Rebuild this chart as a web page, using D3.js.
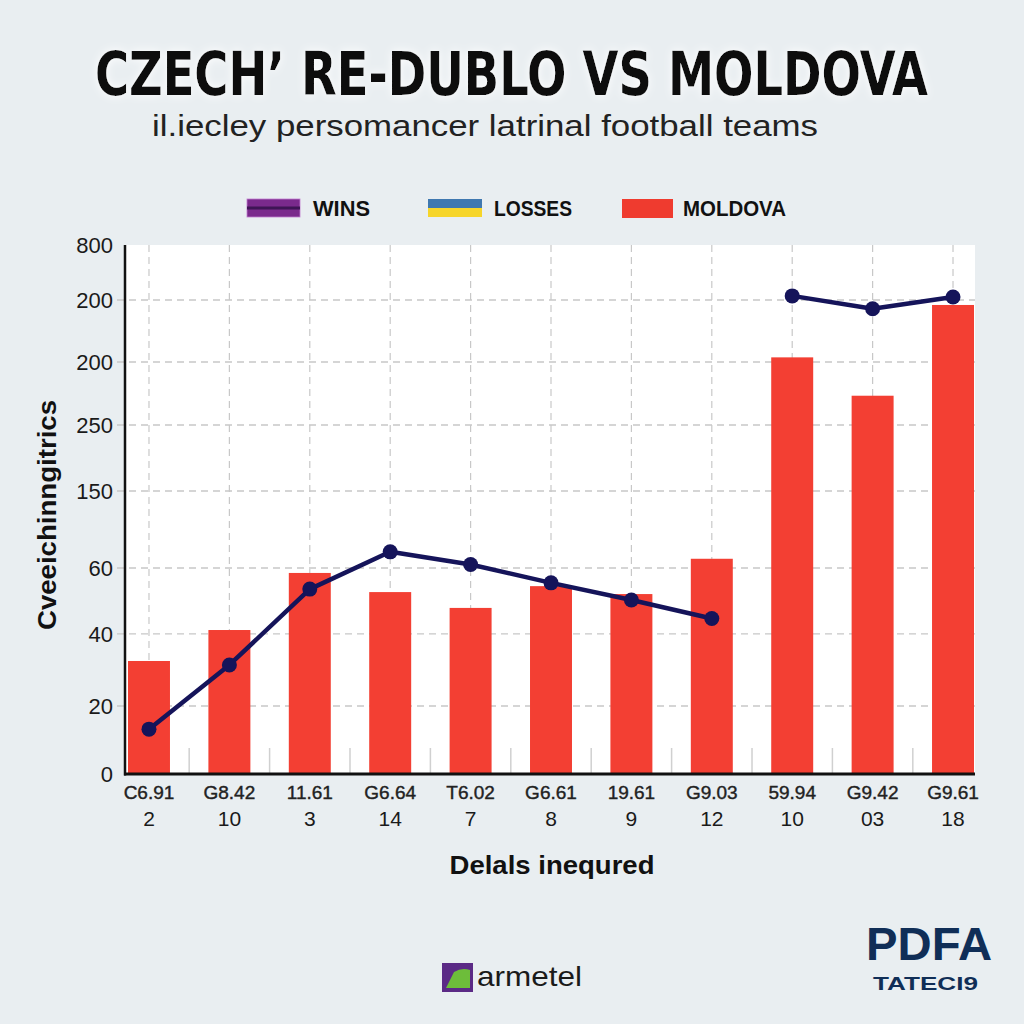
<!DOCTYPE html>
<html>
<head>
<meta charset="utf-8">
<script src="https://cdn.jsdelivr.net/npm/d3@7"></script>
<style>
  html, body { margin: 0; padding: 0; background: #e9eef1; }
  svg { display: block; }
</style>
</head>
<body>
<svg id="chart" width="1024" height="1024"></svg>
<script>
// ---------------- data ----------------
const categoriesTop = ["C6.91", "G8.42", "11.61", "G6.64", "T6.02", "G6.61", "19.61", "G9.03", "59.94", "G9.42", "G9.61"];
const categoriesBottom = ["2", "10", "3", "14", "7", "8", "9", "12", "10", "03", "18"];
// Moldova bars (in y-grid units, 20 per gridline step)
const moldovaValues = [32.5, 41.2, 58.5, 52.7, 47.9, 54.5, 52.1, 62.4, 121.5, 109.3, 138.4];
// Wins line (null = gap)
const winsValues = [13.2, 31.4, 53.6, 64.2, 60.9, 55.5, 50.3, 44.7, null, null, null];
const winsValues2 = [null, null, null, null, null, null, null, null, 141.5, 137.2, 141.1];
// y ticks: underlying grid values and the printed labels
const yTickValues = [0, 20, 40, 60, 80, 100, 120, 140, 160];
const yTickLabels = ["0", "20", "40", "60", "150", "250", "200", "200", "800"];
const legendLabels = ["WINS", "LOSSES", "MOLDOVA"];

// ---------------- layout ----------------
const svg = d3.select("#chart");
const W = 1024, H = 1024;
const plot = { left: 125, right: 975, top: 245, bottom: 774 };
// gridline spacing in the reference is uneven; fractions of plot height from bottom
const gridFrac = [0, 0.1285, 0.2647, 0.3894, 0.535, 0.6597, 0.7788, 0.896, 1];

const x = d3.scaleBand()
  .domain(d3.range(categoriesTop.length))
  .range([128, 974])
  .paddingInner(0.478)
  .paddingOuter(0);

const y = d3.scaleLinear()
  .domain(yTickValues)
  .range(gridFrac.map(f => plot.bottom - f * (plot.bottom - plot.top)));

// background
svg.append("rect").attr("width", W).attr("height", H).attr("fill", "#e9eef1");

// glow filter for title
const defs = svg.append("defs");
const glow = defs.append("filter").attr("id", "glow")
  .attr("x", "-5%").attr("y", "-40%").attr("width", "110%").attr("height", "180%");
glow.append("feGaussianBlur").attr("in", "SourceAlpha").attr("stdDeviation", 4).attr("result", "b");
glow.append("feFlood").attr("flood-color", "#ffffff").attr("result", "f");
glow.append("feComposite").attr("in", "f").attr("in2", "b").attr("operator", "in").attr("result", "g");
const gm = glow.append("feMerge");
gm.append("feMergeNode").attr("in", "g");
gm.append("feMergeNode").attr("in", "SourceGraphic");

// title: size chosen so its natural width is 833px, then stretched vertically
const title = svg.append("text")
  .attr("x", 0).attr("y", 0)
  .attr("font-family", "'Liberation Sans Narrow', 'Arial Narrow', 'DejaVu Sans Condensed', sans-serif")
  .attr("font-weight", "bold").attr("font-size", 60)
  .attr("fill", "#0b0b0b").attr("filter", "url(#glow)")
  .text("CZECH\u2019 RE-DUBLO VS MOLDOVA");
const tw = title.node().getComputedTextLength();
const tf = 60 * 833 / tw;
title.attr("font-size", tf).attr("transform", `translate(95,95) scale(1,${60 / tf})`);

svg.append("text")
  .attr("x", 152).attr("y", 136)
  .attr("textLength", 666).attr("lengthAdjust", "spacingAndGlyphs")
  .attr("font-family", "'Liberation Sans Narrow', 'Liberation Sans', sans-serif")
  .attr("font-size", 30).attr("fill", "#222")
  .text("il.iecley persomancer latrinal  football teams");

// legend
const legend = svg.append("g");
// WINS swatch
legend.append("rect").attr("x", 247).attr("y", 199).attr("width", 53).attr("height", 18).attr("fill", "#7a2a8c").attr("stroke", "#c07ad0").attr("stroke-width", 0.8);
legend.append("rect").attr("x", 247).attr("y", 206.5).attr("width", 53).attr("height", 3).attr("fill", "#3e1555");
// LOSSES swatch
legend.append("rect").attr("x", 428).attr("y", 199).attr("width", 54).attr("height", 9).attr("fill", "#3f78b0");
legend.append("rect").attr("x", 428).attr("y", 208).attr("width", 54).attr("height", 9).attr("fill", "#f6d52a");
// MOLDOVA swatch
legend.append("rect").attr("x", 622).attr("y", 199).attr("width", 51).attr("height", 19).attr("fill", "#ef3b2f");
const legendX = [313, 494, 683];
const legendW = [57, 78, 103];
legend.selectAll("text.leg").data(legendLabels).join("text")
  .attr("class", "leg")
  .attr("x", (d, i) => legendX[i]).attr("y", 216)
  .attr("textLength", (d, i) => legendW[i]).attr("lengthAdjust", "spacingAndGlyphs")
  .attr("font-family", "'Liberation Sans Narrow', 'Arial Narrow', sans-serif")
  .attr("font-weight", "bold").attr("font-size", 22).attr("fill", "#111")
  .text(d => d);

// plot background
svg.append("rect")
  .attr("x", plot.left).attr("y", plot.top)
  .attr("width", plot.right - plot.left).attr("height", plot.bottom - plot.top)
  .attr("fill", "#ffffff");

// horizontal dashed gridlines
svg.append("g").selectAll("line").data(yTickValues.slice(1, -1)).join("line")
  .attr("x1", 117).attr("x2", plot.right)
  .attr("y1", d => y(d)).attr("y2", d => y(d))
  .attr("stroke", "#c8c8c8").attr("stroke-width", 1.3).attr("stroke-dasharray", "7,5");

// vertical dashed gridlines at bar centers
svg.append("g").selectAll("line").data(d3.range(categoriesTop.length)).join("line")
  .attr("x1", d => x(d) + x.bandwidth() / 2).attr("x2", d => x(d) + x.bandwidth() / 2)
  .attr("y1", plot.top).attr("y2", plot.bottom)
  .attr("stroke", "#c8c8c8").attr("stroke-width", 1.2).attr("stroke-dasharray", "7,5");

// small ticks between bars
svg.append("g").selectAll("line").data(d3.range(categoriesTop.length - 1)).join("line")
  .attr("x1", d => x(d) + x.bandwidth() + (x.step() - x.bandwidth()) / 2)
  .attr("x2", d => x(d) + x.bandwidth() + (x.step() - x.bandwidth()) / 2)
  .attr("y1", plot.bottom - 26).attr("y2", plot.bottom)
  .attr("stroke", "#d0d0d0").attr("stroke-width", 1.5);

// bars
svg.append("g").selectAll("rect").data(moldovaValues).join("rect")
  .attr("x", (d, i) => x(i))
  .attr("y", d => y(d))
  .attr("width", x.bandwidth())
  .attr("height", d => plot.bottom - y(d))
  .attr("fill", "#f33f33");

// wins line(s)
const line = d3.line()
  .defined(d => d != null)
  .x((d, i) => x(i) + x.bandwidth() / 2)
  .y(d => y(d));
[winsValues, winsValues2].forEach(series => {
  svg.append("path")
    .attr("d", line(series))
    .attr("fill", "none")
    .attr("stroke", "#15145a").attr("stroke-width", 4.5)
    .attr("stroke-linejoin", "round");
  svg.append("g").selectAll("circle")
    .data(series.map((v, i) => ({ v, i })).filter(d => d.v != null))
    .join("circle")
    .attr("cx", d => x(d.i) + x.bandwidth() / 2)
    .attr("cy", d => y(d.v))
    .attr("r", 7.5)
    .attr("fill", "#15145a");
});

// axes lines
svg.append("line").attr("x1", plot.left).attr("x2", plot.left).attr("y1", plot.top).attr("y2", plot.bottom + 1.5)
  .attr("stroke", "#111").attr("stroke-width", 2.5);
svg.append("line").attr("x1", plot.left - 1).attr("x2", plot.right).attr("y1", plot.bottom).attr("y2", plot.bottom)
  .attr("stroke", "#111").attr("stroke-width", 3);

// y tick labels via axis
const yAxis = d3.axisLeft(y).tickValues(yTickValues).tickFormat((d, i) => yTickLabels[i]).tickSize(0).tickPadding(12);
const yg = svg.append("g").attr("transform", `translate(${plot.left},0)`).call(yAxis);
yg.select(".domain").remove();
yg.selectAll("text")
  .attr("font-family", "'Liberation Sans', Arial, sans-serif")
  .attr("font-size", 22).attr("fill", "#1a1a1a");

// x tick labels (two rows)
const xg = svg.append("g");
xg.selectAll("text.top").data(categoriesTop).join("text")
  .attr("class", "top")
  .attr("x", (d, i) => x(i) + x.bandwidth() / 2)
  .attr("y", 799)
  .attr("text-anchor", "middle")
  .attr("font-family", "'Liberation Sans Narrow', 'Arial Narrow', sans-serif")
  .attr("font-size", 19).attr("fill", "#222")
  .attr("stroke", "#222").attr("stroke-width", 0.4)
  .text(d => d);
xg.selectAll("text.bot").data(categoriesBottom).join("text")
  .attr("class", "bot")
  .attr("x", (d, i) => x(i) + x.bandwidth() / 2)
  .attr("y", 826)
  .attr("text-anchor", "middle")
  .attr("font-family", "'Liberation Sans', Arial, sans-serif")
  .attr("font-size", 21).attr("fill", "#1a1a1a")
  .text(d => d);

// axis titles
svg.append("text")
  .attr("transform", "translate(56,515) rotate(-90)")
  .attr("text-anchor", "middle")
  .attr("textLength", 230).attr("lengthAdjust", "spacingAndGlyphs")
  .attr("font-family", "'Liberation Sans', Arial, sans-serif")
  .attr("font-weight", "bold").attr("font-size", 25).attr("fill", "#111")
  .text("Cveeichinngitrics");

svg.append("text")
  .attr("x", 552).attr("y", 874)
  .attr("text-anchor", "middle")
  .attr("textLength", 205).attr("lengthAdjust", "spacingAndGlyphs")
  .attr("font-family", "'Liberation Sans Narrow', 'Arial Narrow', sans-serif")
  .attr("font-weight", "bold").attr("font-size", 26).attr("fill", "#111")
  .text("Delals inequred");

// logos
const logo = svg.append("g");
logo.append("rect").attr("x", 442).attr("y", 963).attr("width", 31).attr("height", 29).attr("fill", "#5b2a86");
logo.append("path").attr("d", "M446,988 L454,972 Q462,967 470,970 L470,988 Z").attr("fill", "#6dbd3a");
logo.append("text")
  .attr("x", 477).attr("y", 986)
  .attr("textLength", 105).attr("lengthAdjust", "spacingAndGlyphs")
  .attr("font-family", "'Liberation Sans', Arial, sans-serif")
  .attr("font-size", 28).attr("fill", "#1a1a1a")
  .text("armetel");

logo.append("text")
  .attr("x", 866).attr("y", 960)
  .attr("textLength", 126).attr("lengthAdjust", "spacingAndGlyphs")
  .attr("font-family", "'Liberation Sans Narrow', 'Arial Narrow', sans-serif")
  .attr("font-weight", "bold").attr("font-size", 46).attr("fill", "#102e57")
  .text("PDFA");
logo.append("text")
  .attr("x", 873).attr("y", 990)
  .attr("textLength", 105).attr("lengthAdjust", "spacingAndGlyphs")
  .attr("font-family", "'Liberation Sans', Arial, sans-serif")
  .attr("font-weight", "bold").attr("font-size", 19).attr("fill", "#102e57")
  .text("TATECI9");
</script>
</body>
</html>
